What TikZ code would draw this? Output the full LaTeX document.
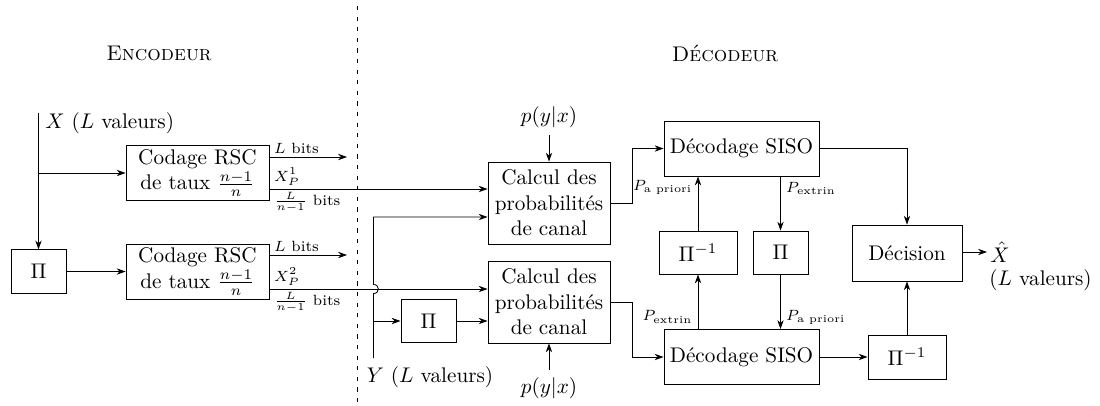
\documentclass[tikz,border=0pt]{standalone}
\usepackage{amsmath}
\usetikzlibrary{arrows.meta,calc}
\begin{document}
\begin{tikzpicture}[x=0.472pt,y=-0.472pt,
  box/.style={draw, align=center, inner sep=1pt},
  arr/.style={-{Stealth[length=4.2pt,width=3pt]}},
  lbl/.style={font=\scriptsize, inner sep=1.5pt},
  sep/.style={dash pattern=on 2pt off 3pt},
]
\useasboundingbox (0,0) rectangle (1100,405);
% separator
\coordinate (dtop) at (357,6);
\coordinate (dbot) at (357,405);
\draw[sep] (dtop) -- (dbot);
\node (enc) at (159,53) {\textsc{Encodeur}};
\node (dcd) at (725,53) {\textsc{Décodeur}};

% encoder nodes
\node[box, minimum width=67.5pt, minimum height=26pt] (rsc1) at (197.5,173) {Codage RSC\\de taux $\frac{n-1}{n}$};
\node[box, minimum width=67.5pt, minimum height=26pt] (rsc2) at (197.5,271.5) {Codage RSC\\de taux $\frac{n-1}{n}$};
\node[box, minimum width=26pt, minimum height=20.5pt] (pil) at (38.5,271.5) {$\Pi$};
\coordinate (xtop) at (38.5,113);
\coordinate (xbr) at (38.5,173);
\node[anchor=west, inner sep=0pt] (xlab) at (45,123) {$X$ ($L$ valeurs)};

\draw[arr] (xtop) -- (pil);
\draw[arr] (xbr) -- (rsc1);
\draw[arr] (pil) -- (rsc2);

% decoder nodes
\node[box, minimum width=57.6pt, minimum height=38.7pt] (cal1) at (549,203) {Calcul des\\probabilités\\de canal};
\node[box, minimum width=57.6pt, minimum height=38.7pt] (cal2) at (549,302) {Calcul des\\probabilités\\de canal};
\node[box, minimum width=26pt, minimum height=20.5pt] (piy) at (428.5,321) {$\Pi$};
\node (py1) at (549,117) {$p(y|x)$};
\node (py2) at (549,388) {$p(y|x)$};
\node[box, minimum width=73.2pt, minimum height=26pt] (siso1) at (741.5,148.5) {Décodage SISO};
\node[box, minimum width=73.2pt, minimum height=26pt] (siso2) at (741.5,357) {Décodage SISO};
\node[box, minimum width=36.8pt, minimum height=20.3pt] (piinv1) at (698,252.5) {$\Pi^{-1}$};
\node[box, minimum width=26pt, minimum height=20.3pt] (pi1) at (780.5,252.5) {$\Pi$};
\node[box, minimum width=52pt, minimum height=26.4pt] (dec) at (907,253) {Décision};
\node[box, minimum width=36.8pt, minimum height=20.8pt] (piinv2) at (907,357) {$\Pi^{-1}$};

% encoder outputs
\coordinate (lb1) at (347,157);
\coordinate (xp1) at (0,189);
\coordinate (lb2) at (347,255);
\coordinate (xp2) at (0,289);
\draw[arr] (rsc1.east |- lb1) -- node[lbl,pos=0,anchor=south west,xshift=0.5pt]{$L$ bits} (lb1);
\draw[arr] (rsc1.east |- xp1) -- node[lbl,pos=0,anchor=south west,xshift=0.5pt]{$X_P^1$} node[lbl,pos=0,anchor=north west,xshift=0.5pt]{$\frac{L}{n-1}$ bits} (cal1.west |- xp1);
\draw[arr] (rsc2.east |- lb2) -- node[lbl,pos=0,anchor=south west,xshift=0.5pt]{$L$ bits} (lb2);
\draw[arr] (rsc2.east |- xp2) -- node[lbl,pos=0,anchor=north west,xshift=0.5pt]{$\frac{L}{n-1}$ bits} node[lbl,pos=0,anchor=south west,xshift=0.5pt]{$X_P^2$} (cal2.west |- xp2);

% Y input
\coordinate (ybot) at (373.5,358);
\coordinate (yc1) at (373.5,217);
\coordinate (ybr) at (373.5,321);
\coordinate (h1) at ($(ybot |- xp2)+(0,4.5)$);
\coordinate (h2) at ($(ybot |- xp2)+(0,-4.5)$);
\node (ylab) at (430,377) {$Y$ ($L$ valeurs)};
\draw[arr] (ybot) -- (h1) .. controls ($(h1)+(6.5,0)$) and ($(h2)+(6.5,0)$) .. (h2) -- (yc1) -- (cal1.west |- yc1);
\draw[arr] (ybr) -- (piy);
\draw[arr] (piy) -- (cal2.west |- piy);
\draw[arr] (py1) -- (cal1);
\draw[arr] (py2) -- (cal2);

% to SISO
\coordinate (kx) at (632,0);
\draw[arr] (cal1.east) -- (cal1.east -| kx) |- (siso1.west);
\draw[arr] (cal2.east) -- (cal2.east -| kx) |- (siso2.west);

\draw[arr] (piinv1.north) -- node[lbl,pos=0.8,anchor=east,xshift=-1pt]{$P_{\text{a priori}}$} (piinv1.north |- siso1.south);
\draw[arr] (siso1.south -| pi1) -- node[lbl,pos=0.22,anchor=west,xshift=1pt]{$P_{\text{extrin}}$} (pi1.north);
\draw[arr] (siso2.north -| piinv1) -- node[lbl,pos=0.22,anchor=east,xshift=-1pt]{$P_{\text{extrin}}$} (piinv1.south);
\draw[arr] (pi1.south) -- node[lbl,pos=0.78,anchor=west,xshift=1pt]{$P_{\text{a priori}}$} (pi1.south |- siso2.north);

\draw[arr] (siso1.east) -| (dec.north);
\draw[arr] (siso2) -- (piinv2);
\draw[arr] (piinv2) -- (dec);
\coordinate (xo) at (987,252);
\draw[arr] (dec.east |- xo) -- (xo);
\node[anchor=base west, inner sep=0pt] (xh) at (990,262) {$\hat{X}$};
\node[anchor=base west, inner sep=0pt] (xhl) at (989,285) {($L$ valeurs)};
\end{tikzpicture}
\end{document}
